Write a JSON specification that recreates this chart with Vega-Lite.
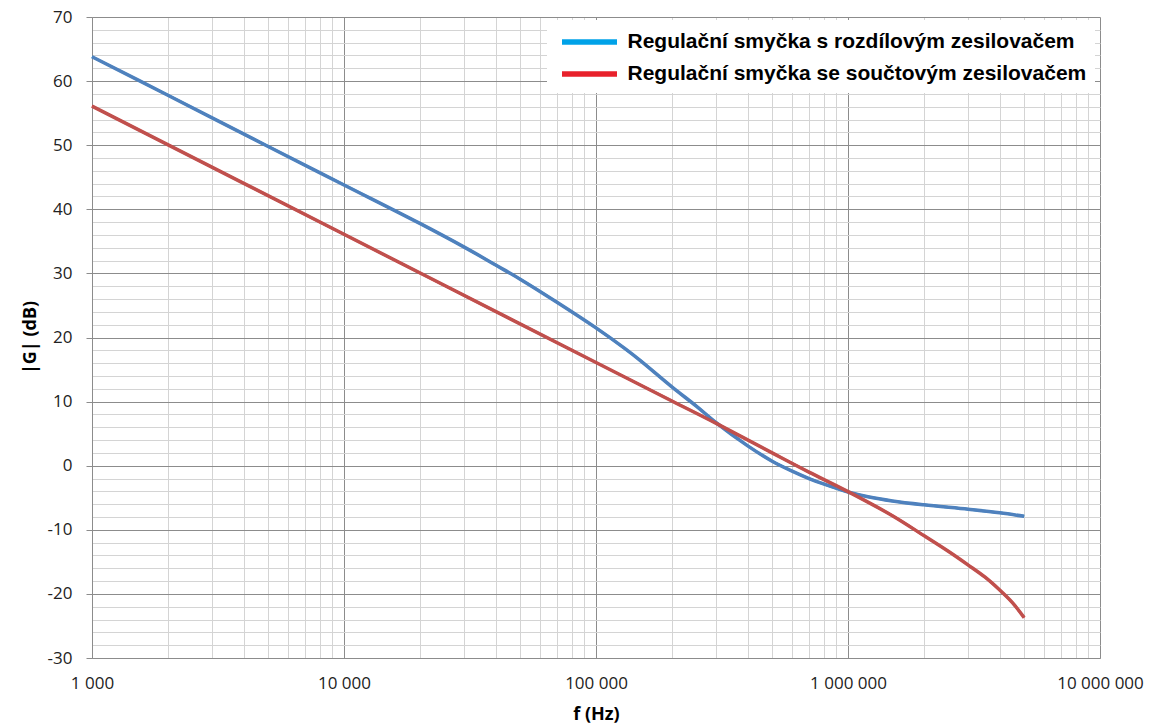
{
  "$schema": "https://vega.github.io/schema/vega-lite/v6.json",
  "width": 1008,
  "height": 641,
  "autosize": {"type": "none"},
  "padding": {"left": 92, "top": 17, "right": 51, "bottom": 67},
  "background": "white",
  "data": {
    "values": [
      {"f": 1000, "G": 63.8, "series": "Regulační smyčka s rozdílovým zesilovačem"},
      {"f": 2000, "G": 57.8, "series": "Regulační smyčka s rozdílovým zesilovačem"},
      {"f": 5000, "G": 49.8, "series": "Regulační smyčka s rozdílovým zesilovačem"},
      {"f": 10000, "G": 43.8, "series": "Regulační smyčka s rozdílovým zesilovačem"},
      {"f": 20000, "G": 37.8, "series": "Regulační smyčka s rozdílovým zesilovačem"},
      {"f": 30000, "G": 34.1, "series": "Regulační smyčka s rozdílovým zesilovačem"},
      {"f": 40000, "G": 31.3, "series": "Regulační smyčka s rozdílovým zesilovačem"},
      {"f": 50000, "G": 29.1, "series": "Regulační smyčka s rozdílovým zesilovačem"},
      {"f": 70000, "G": 25.5, "series": "Regulační smyčka s rozdílovým zesilovačem"},
      {"f": 100000, "G": 21.5, "series": "Regulační smyčka s rozdílovým zesilovačem"},
      {"f": 130000, "G": 18.3, "series": "Regulační smyčka s rozdílovým zesilovačem"},
      {"f": 150000, "G": 16.4, "series": "Regulační smyčka s rozdílovým zesilovačem"},
      {"f": 200000, "G": 12.3, "series": "Regulační smyčka s rozdílovým zesilovačem"},
      {"f": 250000, "G": 9.3, "series": "Regulační smyčka s rozdílovým zesilovačem"},
      {"f": 300000, "G": 6.7, "series": "Regulační smyčka s rozdílovým zesilovačem"},
      {"f": 400000, "G": 3.1, "series": "Regulační smyčka s rozdílovým zesilovačem"},
      {"f": 500000, "G": 0.7, "series": "Regulační smyčka s rozdílovým zesilovačem"},
      {"f": 600000, "G": -0.85, "series": "Regulační smyčka s rozdílovým zesilovačem"},
      {"f": 700000, "G": -2.0, "series": "Regulační smyčka s rozdílovým zesilovačem"},
      {"f": 800000, "G": -2.85, "series": "Regulační smyčka s rozdílovým zesilovačem"},
      {"f": 1000000, "G": -4.1, "series": "Regulační smyčka s rozdílovým zesilovačem"},
      {"f": 1200000, "G": -4.85, "series": "Regulační smyčka s rozdílovým zesilovačem"},
      {"f": 1500000, "G": -5.5, "series": "Regulační smyčka s rozdílovým zesilovačem"},
      {"f": 2000000, "G": -6.1, "series": "Regulační smyčka s rozdílovým zesilovačem"},
      {"f": 3000000, "G": -6.8, "series": "Regulační smyčka s rozdílovým zesilovačem"},
      {"f": 4000000, "G": -7.35, "series": "Regulační smyčka s rozdílovým zesilovačem"},
      {"f": 5000000, "G": -7.9, "series": "Regulační smyčka s rozdílovým zesilovačem"},
      {"f": 1000, "G": 56.1, "series": "Regulační smyčka se součtovým zesilovačem"},
      {"f": 10000, "G": 36.1, "series": "Regulační smyčka se součtovým zesilovačem"},
      {"f": 100000, "G": 16.1, "series": "Regulační smyčka se součtovým zesilovačem"},
      {"f": 200000, "G": 10.1, "series": "Regulační smyčka se součtovým zesilovačem"},
      {"f": 300000, "G": 6.6, "series": "Regulační smyčka se součtovým zesilovačem"},
      {"f": 500000, "G": 2.0, "series": "Regulační smyčka se součtovým zesilovačem"},
      {"f": 700000, "G": -1.0, "series": "Regulační smyčka se součtovým zesilovačem"},
      {"f": 1000000, "G": -4.05, "series": "Regulační smyčka se součtovým zesilovačem"},
      {"f": 1500000, "G": -7.8, "series": "Regulační smyčka se součtovým zesilovačem"},
      {"f": 2000000, "G": -10.9, "series": "Regulační smyčka se součtovým zesilovačem"},
      {"f": 2500000, "G": -13.35, "series": "Regulační smyčka se součtovým zesilovačem"},
      {"f": 3000000, "G": -15.5, "series": "Regulační smyčka se součtovým zesilovačem"},
      {"f": 3500000, "G": -17.4, "series": "Regulační smyčka se součtovým zesilovačem"},
      {"f": 4000000, "G": -19.4, "series": "Regulační smyčka se součtovým zesilovačem"},
      {"f": 4500000, "G": -21.4, "series": "Regulační smyčka se součtovým zesilovačem"},
      {"f": 5000000, "G": -23.7, "series": "Regulační smyčka se součtovým zesilovačem"}
    ]
  },
  "encoding": {
    "x": {
      "field": "f",
      "type": "quantitative",
      "scale": {"type": "log", "domain": [1000, 10000000], "nice": false},
      "axis": {
        "title": "f (Hz)",
        "values": [1000, 2000, 3000, 4000, 5000, 6000, 7000, 8000, 9000, 10000, 20000, 30000, 40000, 50000, 60000, 70000, 80000, 90000, 100000, 200000, 300000, 400000, 500000, 600000, 700000, 800000, 900000, 1000000, 2000000, 3000000, 4000000, 5000000, 6000000, 7000000, 8000000, 9000000, 10000000],
        "labelExpr": "indexof([1000, 10000, 100000, 1000000, 10000000], datum.value) >= 0 ? replace(format(datum.value, ','), regexp(',', 'g'), ' ') : ''",
        "labelFlush": false,
        "labelOverlap": false,
        "labelBound": false,
        "ticks": false,
        "tickSize": 0,
        "labelPadding": 17,
        "labelFont": "Open Sans",
        "labelFontSize": 17,
        "labelColor": "#222222",
        "grid": true,
        "gridColor": {"condition": {"test": "indexof([1000, 10000, 100000, 1000000, 10000000], datum.value) >= 0", "value": "#8c8c8c"}, "value": "#d4d4d4"},
        "gridWidth": 1,
        "domainColor": "#8c8c8c",
        "titleFont": "Open Sans",
        "titleFontSize": 18,
        "titleFontWeight": "bold",
        "titleColor": "#000000",
        "titleY": 56,
        "titleBaseline": "middle"
      }
    },
    "y": {
      "field": "G",
      "type": "quantitative",
      "scale": {"domain": [-30, 70], "nice": false, "zero": false},
      "axis": {
        "title": "|G| (dB)",
        "values": [-30, -28, -26, -24, -22, -20, -18, -16, -14, -12, -10, -8, -6, -4, -2, 0, 2, 4, 6, 8, 10, 12, 14, 16, 18, 20, 22, 24, 26, 28, 30, 32, 34, 36, 38, 40, 42, 44, 46, 48, 50, 52, 54, 56, 58, 60, 62, 64, 66, 68, 70],
        "labelExpr": "datum.value % 10 === 0 ? '' + datum.value : ''",
        "labelOverlap": false,
        "labelBound": false,
        "labelFlush": false,
        "tickSize": 6,
        "tickColor": {"condition": {"test": "datum.value % 10 === 0", "value": "#8c8c8c"}, "value": "transparent"},
        "labelPadding": 14,
        "labelFont": "Open Sans",
        "labelFontSize": 17,
        "labelColor": "#222222",
        "grid": true,
        "gridColor": {"condition": {"test": "datum.value % 10 === 0", "value": "#8c8c8c"}, "value": "#d4d4d4"},
        "gridWidth": 1,
        "domainColor": "#8c8c8c",
        "titleFont": "Open Sans",
        "titleFontSize": 18,
        "titleFontWeight": "bold",
        "titleColor": "#000000",
        "titleX": -62,
        "titleY": 320,
        "titleAngle": -90,
        "titleAlign": "center",
        "titleBaseline": "middle"
      }
    }
  },
  "layer": [
    {
      "mark": {"type": "line", "strokeWidth": 2.5, "interpolate": "catmull-rom"},
      "encoding": {
        "color": {
          "field": "series",
          "type": "nominal",
          "scale": {
            "domain": ["Regulační smyčka s rozdílovým zesilovačem", "Regulační smyčka se součtovým zesilovačem"],
            "range": ["#00A2E8", "#E8212B"]
          },
          "legend": {
            "title": null,
            "orient": "none",
            "legendX": 455,
            "legendY": 3,
            "fillColor": "white",
            "padding": 8,
            "symbolOffset": 20.5,
            "symbolType": "M-2.5,0H2.5",
            "symbolSize": 484,
            "symbolStrokeWidth": 5.5,
            "symbolOpacity": 1,
            "rowPadding": 7,
            "labelFont": "Liberation Sans",
            "labelFontWeight": "bold",
            "labelFontSize": 21,
            "labelColor": "#000000",
            "labelLimit": 0,
            "labelOffset": 24
          }
        }
      }
    },
    {
      "mark": {"type": "line", "strokeWidth": 3.5, "interpolate": "catmull-rom"},
      "encoding": {
        "stroke": {
          "field": "series",
          "type": "nominal",
          "scale": {
            "domain": ["Regulační smyčka s rozdílovým zesilovačem", "Regulační smyčka se součtovým zesilovačem"],
            "range": ["#4F81BD", "#C0504D"]
          },
          "legend": null
        }
      }
    }
  ],
  "config": {"view": {"stroke": null}}
}
